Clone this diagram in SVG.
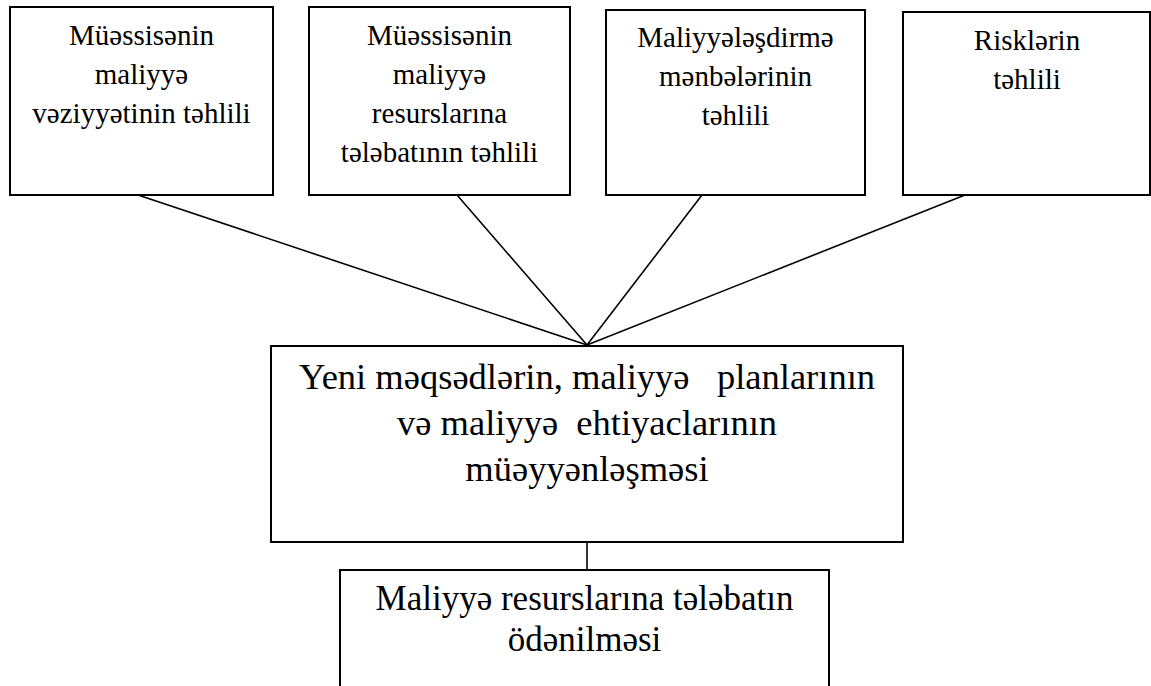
<svg xmlns="http://www.w3.org/2000/svg" width="1151" height="686" viewBox="0 0 1151 686">
<style>
.box{fill:#fff;stroke:#000;stroke-width:2}
.t{font-family:"Liberation Serif","Times New Roman","DejaVu Serif",serif;fill:#000;text-anchor:middle;white-space:pre}
.s{font-size:29px}
.l{font-size:36.5px}
.b{font-size:35px}
.c{stroke:#000;stroke-width:1.6;fill:none}
</style>
<rect width="1151" height="686" fill="#fff"/>
<g id="connectors">
<line class="c" x1="138" y1="195" x2="587" y2="345"/>
<line class="c" x1="457" y1="195" x2="587" y2="345"/>
<line class="c" x1="702" y1="195" x2="587" y2="345"/>
<line class="c" x1="965" y1="195" x2="587" y2="345"/>
<line class="c" x1="587" y1="542" x2="587" y2="570"/>
</g>
<g id="n1">
<rect class="box" x="10" y="7" width="263" height="188"/>
<text class="t s" x="141.5" y="45">Müəssisənin</text>
<text class="t s" x="141.5" y="84">maliyyə</text>
<text class="t s" x="141.5" y="123">vəziyyətinin təhlili</text>
</g>
<g id="n2">
<rect class="box" x="309" y="7" width="261" height="188"/>
<text class="t s" x="439.5" y="45">Müəssisənin</text>
<text class="t s" x="439.5" y="84">maliyyə</text>
<text class="t s" x="439.5" y="123">resurslarına</text>
<text class="t s" x="439.5" y="162">tələbatının təhlili</text>
</g>
<g id="n3">
<rect class="box" x="606" y="10" width="259" height="185"/>
<text class="t s" x="735.5" y="47">Maliyyələşdirmə</text>
<text class="t s" x="735.5" y="86">mənbələrinin</text>
<text class="t s" x="735.5" y="125">təhlili</text>
</g>
<g id="n4">
<rect class="box" x="903" y="12" width="247" height="183"/>
<text class="t s" x="1027" y="50">Risklərin</text>
<text class="t s" x="1027" y="89">təhlili</text>
</g>
<g id="n5">
<rect class="box" x="271" y="346" width="632" height="196"/>
<text class="t l" x="587" y="389" xml:space="preserve">Yeni məqsədlərin, maliyyə   planlarının</text>
<text class="t l" x="587" y="435" xml:space="preserve">və maliyyə  ehtiyaclarının</text>
<text class="t l" x="587" y="481">müəyyənləşməsi</text>
</g>
<g id="n6">
<rect class="box" x="340" y="570" width="489" height="130"/>
<text class="t b" x="584.5" y="610">Maliyyə resurslarına tələbatın</text>
<text class="t b" x="584.5" y="651">ödənilməsi</text>
</g>
</svg>
